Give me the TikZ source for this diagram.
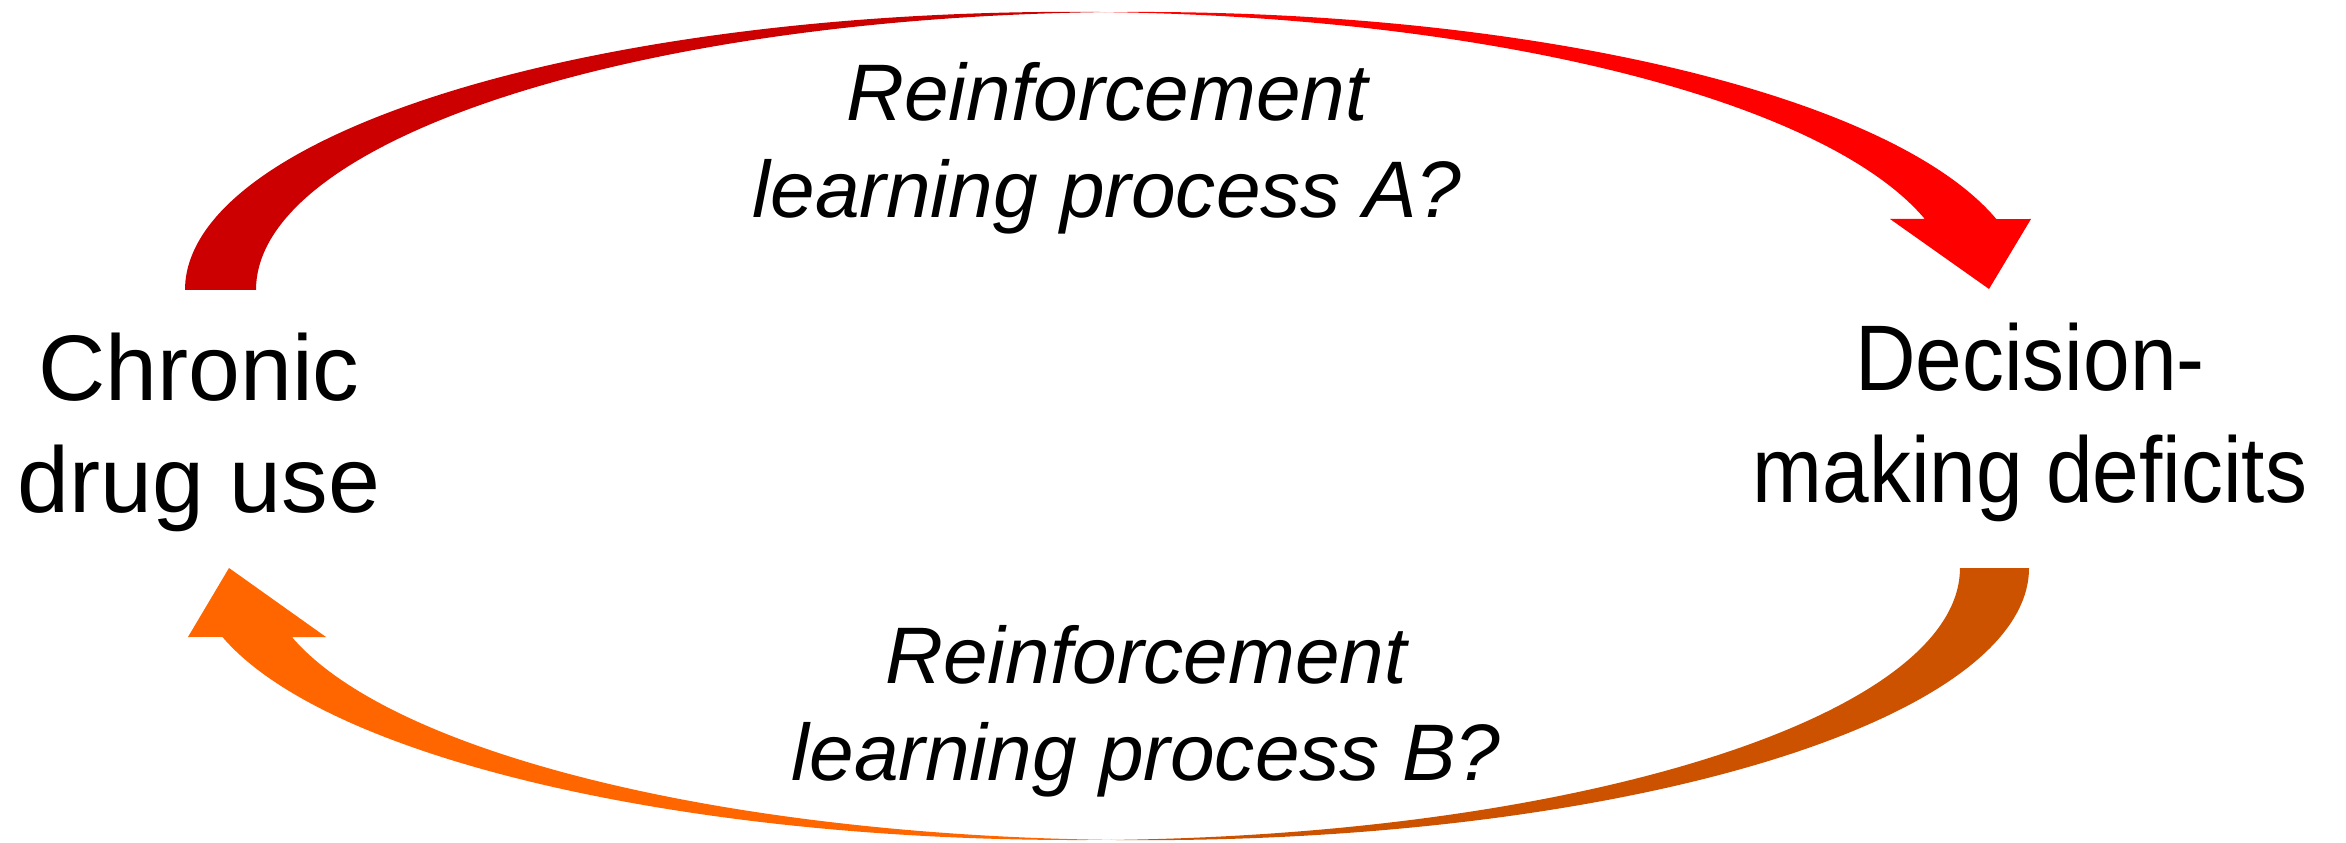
\documentclass[tikz,border=0pt]{standalone}
\usepackage{fontspec}
\setmainfont{Liberation Sans}
\newfontfamily\narrowsans[FakeStretch=0.9]{Liberation Sans}
\usepackage{tikz}
\usetikzlibrary{positioning}

\definecolor{redfront}{HTML}{FF0000}
\definecolor{redback}{HTML}{CC0000}
\definecolor{orangefront}{HTML}{FF6600}
\definecolor{orangeback}{HTML}{CC5200}

\begin{document}
\begin{tikzpicture}[
        x=0.01cm, y=0.01cm,
        state/.style={align=center, inner sep=0pt, font=\fontsize{26.5}{31.9}\selectfont},
        process/.style={align=center, inner sep=0pt, font=\fontsize{22.8}{27.6}\selectfont\itshape},
    ]
        \useasboundingbox (0,0) rectangle (2346,842);
        \def\rxA{8.846cm} \def\ryA{2.78cm}
        \def\rxB{8.83cm}  \def\ryB{2.72cm}

        % upper ribbon: back half, then front half with head
        \fill[redback] (185,552)
            arc[start angle=180, end angle=87.70, x radius=\rxA, y radius=\ryA]
            arc[start angle=92.30, end angle=180, x radius=\rxA, y radius=\ryA] -- cycle;
        \fill[redfront] (1105.1,829.8)
            arc[start angle=92.30, end angle=14.80, x radius=\rxA, y radius=\ryA]
            -- (2031,623) -- (1989,553) -- (1890,623) -- (1924.8,623)
            arc[start angle=14.80, end angle=87.70, x radius=\rxA, y radius=\ryA] -- cycle;

        % lower ribbon
        \fill[orangeback] (2029,274)
            arc[start angle=0, end angle=-92.24, x radius=\rxB, y radius=\ryB]
            arc[start angle=-87.76, end angle=0, x radius=\rxB, y radius=\ryB] -- cycle;
        \fill[orangefront] (1111.5,2.2)
            arc[start angle=-87.76, end angle=-165.30, x radius=\rxB, y radius=\ryB]
            -- (188,205) -- (229,274) -- (326,205) -- (291.9,205)
            arc[start angle=-165.30, end angle=-92.24, x radius=\rxB, y radius=\ryB] -- cycle;

        \node[state] (drug) at (199,410) {Chronic\\drug use};
        \node[state] (deficit) at (2030,420) {\narrowsans Decision-\\\narrowsans making deficits};
        \node[process] (procA) at (1107,694) {Reinforcement\\learning process A?};
        \node[process] (procB) at (1146,131) {Reinforcement\\learning process B?};
    \end{tikzpicture}
\end{document}
